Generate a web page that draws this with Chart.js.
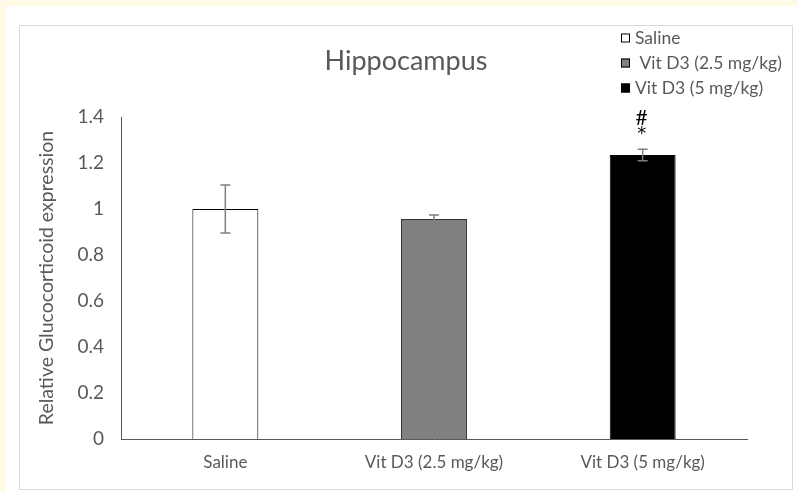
<!DOCTYPE html>
<html>
<head>
<meta charset="utf-8">
<script src="https://cdn.jsdelivr.net/npm/chart.js@4"></script>
<style>
  body { margin: 0; background: #fffae6; }
  #page { position: absolute; left: 6px; top: 6px; width: 791px; height: 486px; background: #fff; }
  #frame { position: absolute; left: 19px; top: 25px; width: 772px; height: 463px; border: 1px solid #d9d9d9; background: #fff; }
</style>
</head>
<body>
<div id="page"></div>
<div id="frame"><canvas id="barChart1" width="772" height="463"></canvas></div>
<script>
const chartTitle = 'Hippocampus';
const groups = ['Saline', 'Vit D3 (2.5 mg/kg)', 'Vit D3 (5 mg/kg)'];
const means = [1.0, 0.957, 1.235];
const errors = [0.104, 0.017, 0.025];
const marks = [[], [], ['*', '#']];
const fills = ['#ffffff', '#808080', '#000000'];
const edges = ['#000000', '#333333', '#000000'];
const yTicks = [0, 0.2, 0.4, 0.6, 0.8, 1, 1.2, 1.4];

const grey = '#595959';
const font = 'Lato, "Open Sans", sans-serif';

// title centred on the whole frame
const frameTitle = {
  id: 'frameTitle',
  afterDraw(chart) {
    const c = chart.ctx;
    c.save();
    c.font = '27px ' + font;
    c.fillStyle = grey;
    c.textAlign = 'center';
    c.textBaseline = 'middle';
    c.fillText(chartTitle, chart.width / 2, 35);
    c.restore();
  }
};

// error bars + significance marks
const errorBars = {
  id: 'errorBars',
  afterDatasetsDraw(chart) {
    const c = chart.ctx;
    const y = chart.scales.y;
    const bars = chart.getDatasetMeta(0).data;
    c.save();
    bars.forEach((bar, i) => {
      const top = y.getPixelForValue(means[i] + errors[i]);
      const bot = y.getPixelForValue(means[i] - errors[i]);
      c.strokeStyle = '#7f7f7f';
      c.lineWidth = 1.5;
      c.beginPath();
      c.moveTo(bar.x, top); c.lineTo(bar.x, bot);
      c.moveTo(bar.x - 5, top); c.lineTo(bar.x + 5, top);
      c.moveTo(bar.x - 5, bot); c.lineTo(bar.x + 5, bot);
      c.stroke();
      c.fillStyle = '#000';
      c.textAlign = 'center';
      c.textBaseline = 'middle';
      marks[i].forEach((m, k) => {
        c.font = (m == '*' ? '18px "DejaVu Sans"' : '21px ' + font);
        c.fillText(m, bar.x - 1, top - (k ? 31 : 15));
      });
    });
    c.restore();
  }
};

// legend in the top right corner
const boxLegend = {
  id: 'boxLegend',
  afterDraw(chart) {
    const c = chart.ctx;
    c.save();
    c.font = '17.5px ' + font;
    c.textBaseline = 'middle';
    c.textAlign = 'left';
    groups.forEach((g, i) => {
      const yy = 12 + i * 25;
      c.fillStyle = fills[i];
      c.fillRect(601, yy - 4.5, 9, 9);
      c.strokeStyle = '#000';
      c.lineWidth = 1;
      c.strokeRect(601.5, yy - 4, 8, 8);
      c.fillStyle = grey;
      c.fillText(i == 1 ? ' ' + g : g, 615, yy);
    });
    c.restore();
  }
};

const ctx = document.getElementById('barChart1');

new Chart(ctx, {
  type: 'bar',
  data: {
    labels: groups,
    datasets: [{
      data: means,
      backgroundColor: fills,
      borderColor: edges,
      borderWidth: 1,
      barPercentage: 0.316,
      categoryPercentage: 1
    }]
  },
  options: {
    responsive: false,
    animation: false,
    layout: { padding: { left: 0, right: 45, top: 91, bottom: 0 } },
    plugins: {
      legend: { display: false },
      tooltip: { enabled: false },
      title: { display: false }
    },
    scales: {
      x: {
        grid: { display: false, drawTicks: false },
        border: { color: grey, width: 1 },
        ticks: { color: grey, font: { family: font, size: 17 }, padding: 13 },
        afterFit: (s) => { s.height = 50; }
      },
      y: {
        min: 0,
        max: 1.4,
        afterBuildTicks: (s) => { s.ticks = yTicks.map(v => ({ value: v })); },
        grid: { display: false, drawTicks: false },
        border: { color: grey, width: 1 },
        ticks: {
          color: grey,
          font: { family: font, size: 19 },
          padding: 17,
          callback: (v) => String(v)
        },
        title: {
          display: true,
          text: 'Relative Glucocorticoid expression',
          color: grey,
          font: { family: font, size: 19.5 },
          padding: { top: 15, bottom: 0 }
        },
        afterFit: (s) => { s.width = 101; }
      }
    }
  },
  plugins: [errorBars, boxLegend, frameTitle]
});
</script>
</body>
</html>
